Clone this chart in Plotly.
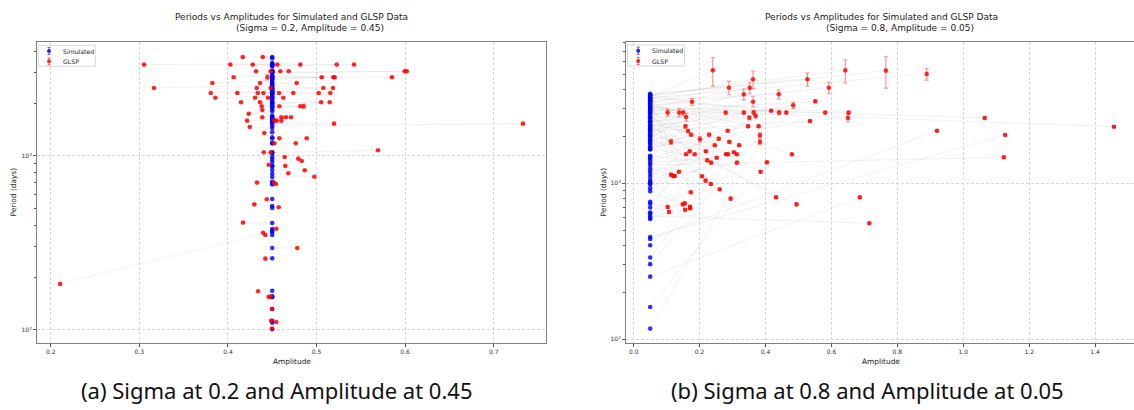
import plotly.graph_objects as go

# ---------------- data : panel (a) sigma 0.2, amplitude 0.45 ----------------
SIM_A_AMPLITUDE = 0.45
sim_a_period = [3700, 3650, 3380, 3330, 3360, 3300, 3420, 3340, 3280, 3100,
                3060, 3040, 3080, 3020, 3000, 2900, 2830, 2780, 2850, 2760,
                2870, 2700, 2640, 2600, 2550, 2470, 2440, 2500, 2420, 2380,
                2330, 2310, 2290, 2270, 2340, 2250, 2360, 2200, 2170, 2150,
                2130, 2080, 2040, 2020, 2000, 1960, 1940, 1920, 1900, 1850,
                1800, 1700, 1680, 1660, 1640, 1620, 1600, 1580, 1560, 1540,
                1490, 1450, 1370, 1280, 1260, 1190, 1180, 1045, 1050, 1040,
                990, 960, 925, 880, 870, 830, 790, 757, 710, 700,
                685, 566, 516, 503, 412, 380, 366, 351, 296, 258,
                370, 168, 156, 154, 132, 113, 110, 101]
glsp_a_amp = [0.4167, 0.4393, 0.3053, 0.4027, 0.428, 0.4558, 0.4817, 0.5228, 0.5423, 0.4317,
              0.4483, 0.4592, 0.4686, 0.5995, 0.6018, 0.4065, 0.4445, 0.5059, 0.519, 0.5205,
              0.5852, 0.3824, 0.4362, 0.4776, 0.3166, 0.4325, 0.4483, 0.5077, 0.5186, 0.3806,
              0.4106, 0.4336, 0.44, 0.4577, 0.4738, 0.5025, 0.5156, 0.3858, 0.4306, 0.4453,
              0.4625, 0.4148, 0.4362, 0.5051, 0.5149, 0.4381, 0.458, 0.4817, 0.4855, 0.4388,
              0.4235, 0.4388, 0.4603, 0.4655, 0.4712, 0.4216, 0.4524, 0.4551, 0.4603, 0.5198,
              0.733, 0.4246, 0.4411, 0.458, 0.4889, 0.4524, 0.4765, 0.5694, 0.4404, 0.4483,
              0.4641, 0.4795, 0.4833, 0.446, 0.4648, 0.4867, 0.4682, 0.4975, 0.4328, 0.452,
              0.4543, 0.4438, 0.4298, 0.4573, 0.417, 0.4546, 0.4396, 0.4422, 0.4783, 0.4422,
              0.2106, 0.434, 0.446, 0.4479, 0.4498, 0.4487, 0.4546, 0.4498]
glsp_a_period = [3700, 3700, 3350, 3350, 3350, 3350, 3350, 3350, 3350, 3068,
                 3068, 3068, 3068, 3068, 3068, 2832, 2832, 2832, 2832, 2832,
                 2832, 2627, 2627, 2627, 2460, 2460, 2460, 2460, 2460, 2301,
                 2301, 2301, 2301, 2301, 2301, 2301, 2301, 2162, 2162, 2162,
                 2162, 2036, 2036, 2036, 2036, 1931, 1931, 1931, 1931, 1837,
                 1749, 1668, 1668, 1668, 1668, 1596, 1596, 1596, 1596, 1534,
                 1534, 1468, 1355, 1264, 1264, 1183, 1183, 1078, 1050, 1050,
                 987, 965, 936, 891, 877, 828, 795, 760, 703, 703,
                 690, 564, 527, 507, 414, 382, 362, 351, 296, 257,
                 184, 167, 155, 155, 132, 113, 111, 102]
glsp_a_err = [0, 0, 0, 0, 0, 0, 0, 0, 0, 0,
              0, 0, 0, 0, 0, 0, 95, 0, 0, 0,
              0, 0, 0, 0, 0, 0, 0, 0, 0, 0,
              0, 0, 0, 0, 0, 0, 0, 0, 0, 0,
              0, 0, 0, 0, 0, 0, 0, 0, 50, 0,
              0, 0, 0, 0, 0, 0, 0, 0, 0, 0,
              0, 0, 0, 0, 0, 0, 0, 0, 0, 0,
              0, 0, 0, 0, 0, 0, 0, 0, 0, 0,
              0, 0, 0, 0, 0, 0, 0, 0, 0, 0,
              0, 0, 0, 0, 0, 0, 0, 0]

# ---------------- data : panel (b) sigma 0.8, amplitude 0.05 ----------------
SIM_B_AMPLITUDE = 0.05
sim_b_period = [3600, 3300, 3500, 3050, 2700, 2450, 3700, 3400, 3750, 3150,
                3650, 2300, 2900, 3450, 2050, 3250, 1950, 2600, 1850, 2500,
                1000, 2200, 2800, 3550, 2350, 3000, 3350, 2150, 1700, 1480,
                2950, 1650, 1100, 2550, 1450, 760, 1800, 3100, 303, 117,
                2400, 334, 1750, 2650, 1660, 1400, 2750, 2100, 1350, 1900,
                1500, 2250, 1200, 2000, 930, 1050, 3200, 161, 2850, 700,
                1150, 3375, 980, 2480, 650, 2030, 1250, 3420, 1880, 2330,
                2180, 252, 617, 740, 600, 890, 640, 590, 401, 1020,
                3680, 3520, 3080, 2960, 440, 453, 1310]
glsp_b_amp = [0.24, 0.289, 0.362, 0.352, 0.334, 0.362, 0.177, 0.44, 0.527, 0.592,
              0.642, 0.484, 0.551, 0.103, 0.138, 0.150, 0.159, 0.279, 0.334, 0.364,
              0.370, 0.351, 0.417, 0.441, 0.463, 0.581, 0.652, 0.65, 0.535, 0.157,
              0.165, 0.174, 0.229, 0.201, 0.258, 0.285, 0.347, 0.379, 0.383, 0.383,
              0.29, 0.32, 0.113, 0.246, 0.159, 0.17, 0.185, 0.219, 0.252, 0.223,
              0.235, 0.28, 0.286, 0.304, 0.313, 0.313, 0.48, 0.404, 0.385, 0.137,
              0.113, 0.121, 0.124, 0.207, 0.218, 0.234, 0.261, 0.173, 0.294, 0.432,
              0.494, 0.686, 0.715, 0.103, 0.107, 0.149, 0.155, 0.156, 0.171, 0.171,
              0.765, 0.889, 1.065, 1.457, 0.92, 1.127, 1.123]
glsp_b_period = [5300, 4100, 4645, 4100, 3725, 3335, 3335, 3725, 4645, 4100,
                 5300, 3162, 3357, 2840, 2840, 2840, 2660, 2840, 2840, 2840,
                 2700, 2630, 2917, 2840, 2840, 2840, 2840, 2620, 2508, 2319,
                 2162, 2050, 2050, 1916, 1930, 2173, 2319, 2319, 2030, 1843,
                 1843, 1755, 1843, 1755, 1534, 1603, 1534, 1603, 1459, 1403,
                 1356, 1534, 1534, 1580, 1534, 1356, 1534, 1363, 1187, 1187,
                 1136, 1114, 1114, 1109, 1040, 990, 915, 877, 797, 813,
                 733, 813, 554, 704, 655, 733, 745, 677, 708, 692,
                 5275, 5020, 2625, 2306, 2173, 2042, 1468]
glsp_b_err = [1100, 400, 600, 350, 300, 250, 170, 250, 450, 350,
              900, 150, 80, 150, 180, 100, 150, 60, 60, 100,
              80, 80, 40, 100, 60, 60, 60, 140, 40, 60,
              40, 40, 40, 80, 40, 40, 40, 40, 75, 75,
              30, 30, 70, 30, 25, 25, 25, 25, 25, 25,
              25, 25, 25, 25, 25, 25, 25, 25, 20, 20,
              20, 20, 20, 20, 20, 20, 15, 15, 15, 15,
              15, 15, 10, 15, 15, 15, 15, 15, 15, 15,
              1200, 430, 40, 30, 30, 30, 30]

x_ticks_a = [0.2, 0.3, 0.4, 0.5, 0.6, 0.7]
x_ticks_b = [0.0, 0.2, 0.4, 0.6, 0.8, 1.0, 1.2, 1.4]
y_ticks = [100, 1000]
y_tick_text = ["10<sup>2</sup>", "10<sup>3</sup>"]
y_minor = [200, 300, 400, 500, 600, 700, 800, 900, 2000, 3000, 4000, 5000, 6000, 7000, 8000, 9000]

title_line1 = "Periods vs Amplitudes for Simulated and GLSP Data"
title_a_line2 = "(Sigma = 0.2, Amplitude = 0.45)"
title_b_line2 = "(Sigma = 0.8, Amplitude = 0.05)"
caption_a = "(a) Sigma at 0.2 and Amplitude at 0.45"
caption_b = "(b) Sigma at 0.8 and Amplitude at 0.05"

# ---------------- figure ----------------
W, H = 1134, 410
def fx(px):
    return px / W
def fy(py):
    return 1 - py / H

RED = "rgba(255,0,0,0.82)"
BLUE = "rgba(0,0,255,0.82)"
LINE = "rgba(140,140,140,0.16)"
FONT = "DejaVu Sans"

fig = go.Figure()

def add_panel(sim_amp_value, sim_period, g_amp, g_period, g_err, xa, ya):
    sim_amp = [sim_amp_value] * len(sim_period)
    lx, ly = [], []
    for sa, sp, ga, gp in zip(sim_amp, sim_period, g_amp, g_period):
        lx += [sa, ga, None]
        ly += [sp, gp, None]
    fig.add_trace(go.Scatter(x=lx, y=ly, mode="lines", xaxis=xa, yaxis=ya,
                             line=dict(color=LINE, width=0.8), hoverinfo="skip",
                             showlegend=False))
    fig.add_trace(go.Scatter(x=sim_amp, y=sim_period, mode="markers", xaxis=xa, yaxis=ya,
                             marker=dict(color=BLUE, size=4.6, line=dict(width=0)),
                             name="Simulated", showlegend=False))
    fig.add_trace(go.Scatter(x=g_amp, y=g_period, mode="markers", xaxis=xa, yaxis=ya,
                             marker=dict(color=RED, size=4.6, line=dict(width=0)),
                             error_y=dict(type="data", array=g_err, visible=True,
                                          color="rgba(255,0,0,0.45)", thickness=1.1, width=2),
                             name="GLSP", showlegend=False))

add_panel(SIM_A_AMPLITUDE, sim_a_period, glsp_a_amp, glsp_a_period, glsp_a_err, "x", "y")
add_panel(SIM_B_AMPLITUDE, sim_b_period, glsp_b_amp, glsp_b_period, glsp_b_err, "x2", "y2")

common = dict(showline=True, linecolor="#808080", linewidth=1, mirror=True,
              ticks="outside", ticklen=3, tickwidth=0.8, tickcolor="#555",
              tickfont=dict(family=FONT, size=6, color="#333"),
              showgrid=True, gridcolor="#d6d6d6", griddash="3px,2px", gridwidth=0.7,
              zeroline=False)

ydom = [fy(343), fy(42)]
fig.update_layout(
    width=W, height=H, margin=dict(l=0, r=0, t=0, b=0),
    paper_bgcolor="white", plot_bgcolor="white", showlegend=False,
    xaxis=dict(domain=[fx(37), fx(546)], range=[0.1845, 0.759], anchor="y",
               tickvals=x_ticks_a, ticktext=[f"{v:.1f}" for v in x_ticks_a], **common),
    yaxis=dict(domain=ydom, type="log", range=[1.925, 3.655], anchor="x",
               tickvals=y_ticks, ticktext=y_tick_text,
               minor=dict(ticks="outside", ticklen=2, tickvals=y_minor, showgrid=False,
                          tickcolor="#555"), **common),
    xaxis2=dict(domain=[fx(626), 1.0], range=[-0.0234, 1.518], anchor="y2",
                tickvals=x_ticks_b, ticktext=[f"{v:.1f}" for v in x_ticks_b], **common),
    yaxis2=dict(domain=ydom, type="log", range=[1.976, 3.906], anchor="x2",
                tickvals=y_ticks, ticktext=y_tick_text,
                minor=dict(ticks="outside", ticklen=2, tickvals=y_minor, showgrid=False,
                           tickcolor="#555"), **common),
)

ann = []
def text(x, y, s, size, family=FONT, color="#222", angle=0):
    ann.append(dict(x=fx(x), y=fy(y), xref="paper", yref="paper", text=s, showarrow=False,
                    xanchor="center", yanchor="middle", textangle=angle,
                    font=dict(family=family, size=size, color=color)))

# titles
text(291.5, 16.5, title_line1, 9)
text(310, 27.5, title_a_line2, 9)
text(881.5, 16.5, title_line1, 9)
text(900, 27.5, title_b_line2, 9)
# axis labels
text(291.5, 361, "Amplitude", 7.4)
text(881, 361, "Amplitude", 7.4)
text(13, 192.5, "Period (days)", 7.4, angle=-90)
text(603, 192.5, "Period (days)", 7.4, angle=-90)
# captions
text(277, 390, caption_a, 22, family="Noto Sans", color="#111")
text(867, 390, caption_b, 22, family="Noto Sans", color="#111")

# legends (box + glyphs + labels)
shapes = []
def legend(x0, y0):
    shapes.append(dict(type="rect", xref="paper", yref="paper",
                       x0=fx(x0), x1=fx(x0 + 57), y0=fy(y0), y1=fy(y0 + 21),
                       line=dict(color="#d0d0d0", width=0.8), fillcolor="rgba(255,255,255,0.85)"))
    for dy, col, ecol, lab in [(5.7, BLUE, "rgba(0,0,255,0.6)", "Simulated"),
                               (16, RED, "rgba(255,0,0,0.6)", "GLSP")]:
        cx, cy = x0 + 10.7, y0 + dy
        shapes.append(dict(type="line", xref="paper", yref="paper", x0=fx(cx), x1=fx(cx),
                           y0=fy(cy - 3.5), y1=fy(cy + 3.5), line=dict(color=ecol, width=1)))
        for ey in (cy - 3.5, cy + 3.5):
            shapes.append(dict(type="line", xref="paper", yref="paper", x0=fx(cx - 1.5),
                               x1=fx(cx + 1.5), y0=fy(ey), y1=fy(ey),
                               line=dict(color=ecol, width=1)))
        shapes.append(dict(type="circle", xref="paper", yref="paper", x0=fx(cx - 2),
                           x1=fx(cx + 2), y0=fy(cy - 2), y1=fy(cy + 2),
                           fillcolor=col, line=dict(width=0)))
        ann.append(dict(x=fx(x0 + 22.5), y=fy(cy), xref="paper", yref="paper", text=lab,
                        showarrow=False, xanchor="left", yanchor="middle",
                        font=dict(family=FONT, size=6.2, color="#222")))

legend(38.3, 45.3)
legend(627.5, 45)

fig.update_layout(annotations=ann, shapes=shapes)
fig.write_html("out.html", config={"displayModeBar": False},
               post_script="document.body.style.margin='0';document.body.style.padding='0';")
